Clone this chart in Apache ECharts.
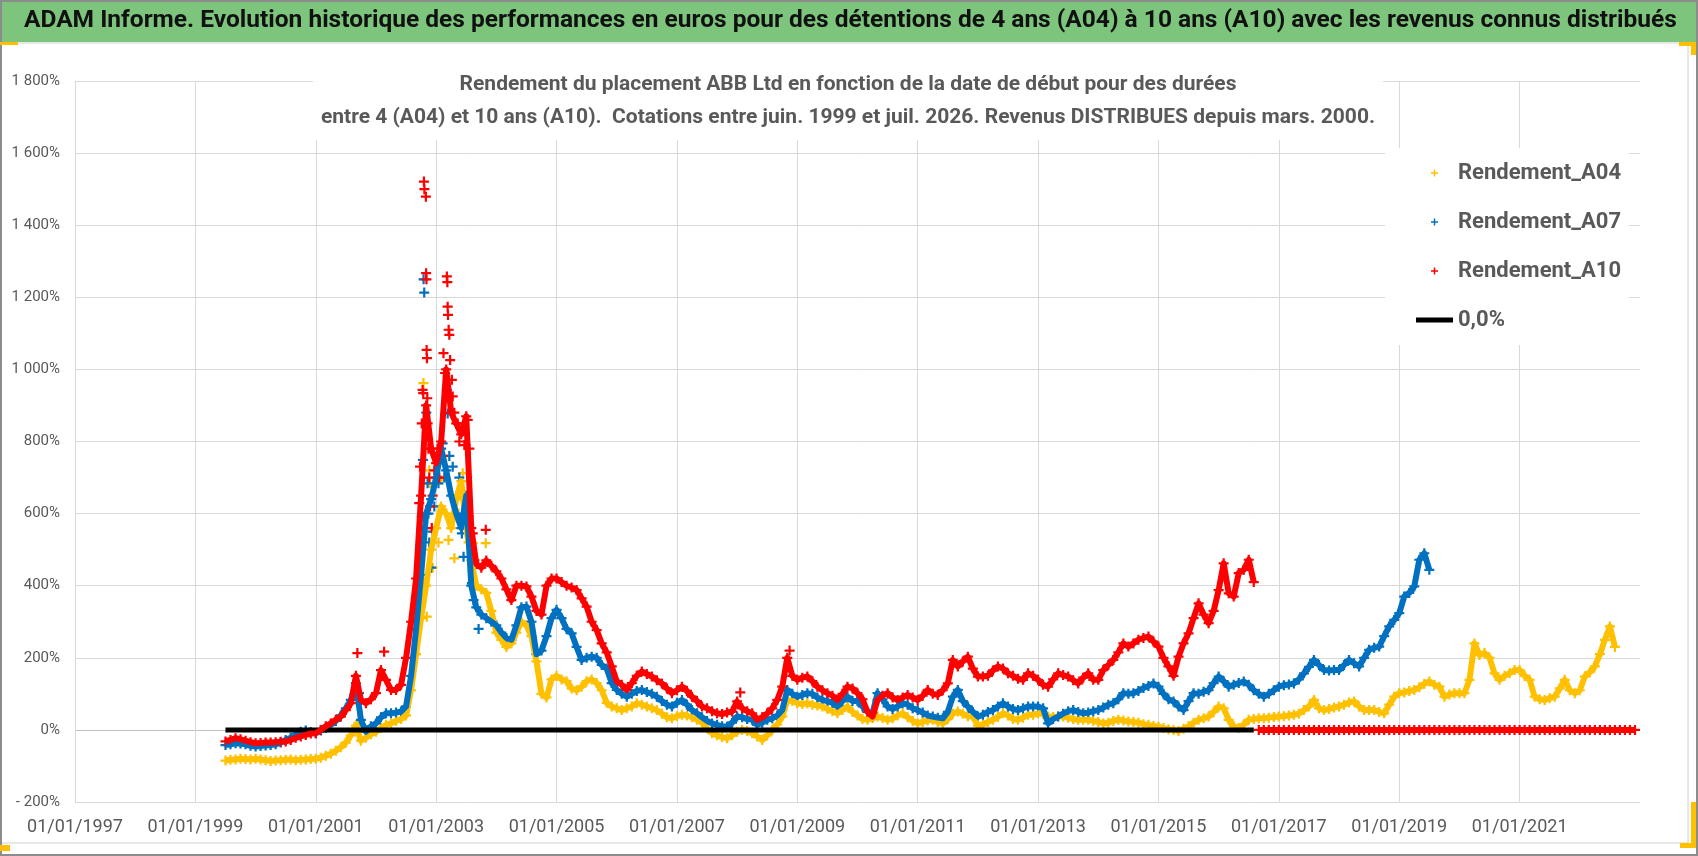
<!DOCTYPE html>
<html>
<head>
<meta charset="utf-8">
<script src="https://cdn.jsdelivr.net/npm/echarts@6/dist/echarts.min.js"></script>
<style>
  html, body { margin: 0; padding: 0; background: #fff; }
  #chart { width: 1698px; height: 856px; }
</style>
</head>
<body>
<div id="chart"></div>
<script>
// monthly values, first month = July 1999
const firstMonth = [1999, 7];

const a04 = [
  -85, -83, -82, -80, -81, -82,
  -80, -82, -84, -86, -85, -84, -83, -82, -84, -83, -82, -81,
  -80, -77, -72, -66, -58, -48, -35, -15, 12, -30, -22, -12,
  -5, 5, 14, 18, 25, 30, 40, 110, 210, 310, 400, 500,
  560, 620, 600, 560, 640, 690, 560, 470, 400, 390, 380, 330,
  270, 250, 230, 240, 270, 300, 290, 260, 190, 100, 90, 140,
  150, 140, 135, 115, 110, 120, 135, 140, 130, 110, 75, 65,
  60, 55, 60, 65, 74, 70, 65, 60, 55, 45, 35, 32,
  38, 42, 40, 35, 28, 20, 5, -9, -15, -20, -23, -15,
  -5, 0, -3, -9, -18, -28, -15, 0, 15, 37, 83, 80,
  74, 72, 74, 70, 68, 65, 58, 52, 46, 55, 65, 50,
  40, 30, 28, 32, 37, 33, 28, 32, 40, 46, 35, 25,
  18, 22, 26, 28, 22, 18, 30, 45, 51, 45, 38, 37,
  12, 15, 22, 28, 36, 46, 40, 30, 28, 34, 42, 42,
  46, 44, 37, 36, 37, 37, 34, 30, 28, 28, 28, 25,
  22, 18, 20, 25, 28, 26, 23, 22, 20, 16, 14, 11,
  9, 5, 2, 0, -3, 3, 10, 20, 28, 32, 37, 50,
  65, 60, 28, 10, 5, 15, 28, 30, 32, 32, 34, 36,
  37, 38, 40, 42, 45, 55, 65, 83, 60, 55, 58, 62,
  65, 70, 76, 79, 65, 55, 55, 55, 50, 46, 70, 92,
  102, 104, 108, 111, 118, 128, 134, 125, 120, 92, 98, 102,
  102, 102, 139, 240, 208, 213, 200, 157, 139, 150, 157, 166,
  166, 150, 139, 92, 85, 83, 88, 92, 115, 139, 110, 102,
  110, 148, 160, 176, 210, 250, 287, 230
];

const a07 = [
  -42, -40, -37, -38, -40, -44,
  -46, -45, -43, -42, -40, -35, -28, -22, -12, -5, -2, -6,
  -9, -2, 5, 14, 25, 40, 60, 83, 130, 28, -5, 10,
  18, 35, 46, 46, 48, 51, 65, 150, 280, 430, 600, 640,
  700, 780, 720, 650, 600, 560, 650, 400, 340, 320, 310, 300,
  290, 270, 255, 250, 290, 340, 342, 300, 210, 220, 260, 310,
  333, 310, 280, 268, 230, 194, 200, 203, 200, 180, 170, 130,
  111, 100, 92, 100, 108, 111, 105, 100, 92, 80, 70, 65,
  75, 83, 70, 55, 46, 35, 25, 18, 14, 10, 9, 20,
  37, 35, 30, 28, 14, 20, 28, 32, 40, 55, 111, 100,
  92, 97, 102, 100, 90, 83, 80, 75, 65, 80, 92, 80,
  80, 65, 50, 46, 102, 85, 65, 58, 65, 74, 70, 60,
  55, 48, 40, 37, 34, 32, 50, 92, 111, 80, 65, 50,
  37, 42, 50, 55, 65, 74, 65, 58, 55, 60, 65, 65,
  65, 60, 18, 30, 37, 45, 52, 55, 50, 46, 48, 52,
  55, 62, 70, 74, 85, 102, 100, 102, 108, 116, 122, 129,
  120, 100, 85, 79, 65, 55, 80, 102, 100, 106, 110, 130,
  148, 135, 120, 125, 130, 134, 125, 110, 100, 92, 100, 110,
  120, 124, 126, 129, 140, 157, 175, 194, 180, 166, 165, 166,
  166, 180, 194, 185, 176, 200, 222, 228, 231, 260, 287, 305,
  324, 370, 380, 398, 472, 490, 444
];

const a10 = [
  -32, -28, -23, -26, -30, -34,
  -37, -36, -35, -35, -34, -33, -32, -28, -22, -18, -14, -10,
  -9, 0, 10, 18, 28, 37, 55, 74, 150, 83, 74, 85,
  102, 166, 139, 111, 111, 125, 200, 300, 420, 650, 900, 780,
  740, 800, 1000, 880, 850, 820, 870, 560, 460, 450, 470, 455,
  440, 420, 390, 360, 400, 400, 398, 370, 330, 320, 400, 420,
  420, 410, 400, 395, 388, 365, 342, 300, 277, 240, 215, 176,
  135, 125, 111, 130, 150, 162, 155, 148, 138, 129, 115, 102,
  110, 120, 108, 92, 80, 65, 60, 52, 46, 44, 48, 51,
  79, 60, 52, 46, 28, 35, 46, 60, 83, 120, 200, 150,
  139, 145, 148, 135, 120, 110, 102, 95, 83, 100, 120, 115,
  102, 85, 50, 37, 83, 95, 102, 90, 83, 90, 97, 90,
  83, 95, 111, 100, 97, 110, 129, 194, 176, 190, 203, 170,
  148, 148, 150, 165, 176, 170, 157, 150, 142, 139, 157, 150,
  139, 125, 120, 140, 157, 152, 148, 138, 129, 145, 157, 139,
  139, 166, 180, 194, 215, 240, 231, 240, 250, 255, 259, 245,
  231, 200, 176, 150, 203, 240, 268, 310, 351, 320, 296, 330,
  388, 462, 379, 370, 435, 444, 472, 410
];
// after Aug 2016 the A10 column only holds 0 values (Sep 2016 - Dec 2022)
const a10Tail = [
  0, 0, 0, 0,
  0, 0, 0, 0, 0, 0, 0, 0, 0, 0, 0, 0,
  0, 0, 0, 0, 0, 0, 0, 0, 0, 0, 0, 0,
  0, 0, 0, 0, 0, 0, 0, 0, 0, 0, 0, 0,
  0, 0, 0, 0, 0, 0, 0, 0, 0, 0, 0, 0,
  0, 0, 0, 0, 0, 0, 0, 0, 0, 0, 0, 0,
  0, 0, 0, 0, 0, 0, 0, 0, 0, 0, 0, 0
];

// scattered points of the 2002-2003 bubble
const a04Extra = [
  ['2002-10-15', 962], ['2002-11-02', 825], ['2002-11-20', 720], ['2002-11-25', 684],
  ['2002-10-20', 407], ['2002-11-05', 314], ['2002-12-10', 450], ['2003-01-15', 520],
  ['2003-02-01', 693], ['2003-03-15', 527], ['2003-04-20', 476], ['2003-05-15', 600],
  ['2003-06-10', 712], ['2003-06-25', 640], ['2003-07-15', 520], ['2003-08-10', 518],
  ['2003-10-28', 518], ['2001-09-15', 18]
];
const a07Extra = [
  ['2002-09-25', 500], ['2002-10-05', 592], ['2002-10-12', 749], ['2002-10-16', 1250],
  ['2002-10-20', 1213], ['2002-11-02', 880], ['2002-11-05', 814], ['2002-11-10', 684],
  ['2002-11-15', 600], ['2002-11-20', 520], ['2002-12-01', 450], ['2002-12-10', 550],
  ['2002-12-20', 620], ['2003-01-15', 684], ['2003-02-10', 795], ['2003-02-20', 700],
  ['2003-03-05', 943], ['2003-03-10', 878], ['2003-03-20', 760], ['2003-04-10', 730],
  ['2003-05-05', 650], ['2003-05-20', 700], ['2003-06-05', 545], ['2003-06-15', 480],
  ['2003-07-15', 592], ['2003-08-05', 407], ['2003-08-15', 360], ['2003-09-15', 280],
  ['2001-09-20', 102]
];
const a10Extra = [
  ['2002-09-20', 629], ['2002-09-25', 730], ['2002-10-05', 850], ['2002-10-10', 943],
  ['2002-10-14', 934], ['2002-10-18', 1521], ['2002-10-21', 1500], ['2002-10-30', 1479],
  ['2002-11-01', 1267], ['2002-11-03', 1250], ['2002-11-04', 1054], ['2002-11-06', 1031],
  ['2002-11-08', 920], ['2002-11-10', 850], ['2002-11-15', 780], ['2002-11-20', 700],
  ['2002-11-25', 620], ['2002-12-05', 560], ['2002-12-10', 650], ['2002-12-20', 720],
  ['2003-01-10', 780], ['2003-01-20', 700], ['2003-02-10', 760], ['2003-02-15', 1045],
  ['2003-02-25', 990], ['2003-03-05', 1258], ['2003-03-08', 1242], ['2003-03-10', 1174],
  ['2003-03-12', 1151], ['2003-03-16', 1110], ['2003-03-20', 1096], ['2003-03-25', 1026],
  ['2003-04-05', 971], ['2003-04-10', 925], ['2003-04-20', 880], ['2003-05-10', 850],
  ['2003-05-20', 800], ['2003-06-10', 830], ['2003-06-20', 790], ['2003-07-10', 860],
  ['2003-07-20', 780], ['2003-08-10', 545], ['2003-08-20', 470], ['2003-10-28', 555],
  ['2001-09-10', 213], ['2002-02-20', 217], ['2008-11-15', 220], ['2008-01-20', 104]
];

const zeroLine = ['1999-07-01', '2016-08-01'];
const seriesNames = ['Rendement_A04', 'Rendement_A07', 'Rendement_A10', '0,0%'];
const colors = ['#FFC000', '#0070C0', '#FF0000', '#000000'];

const FONT = "Roboto, 'Noto Sans', sans-serif";
const BASE_YEAR = 1997;
const PLUS = 'path://M3.5,0H5.5V3.5H9V5.5H5.5V9H3.5V5.5H0V3.5H3.5Z';
const PLUS_ICON = 'path://M0,0L0.01,0L0,0.01Z M37,7L36.99,7L37,6.99Z M17.75,0H19.25V2.75H22V4.25H19.25V7H17.75V4.25H15V2.75H17.75Z';
const LINE_ICON = 'path://M0,0L0.01,0L0,0.01Z M37,7L36.99,7L37,6.99Z M0,1H37V6H0Z';

// x axis runs in years since 01/01/1997
const monthX = (i) => firstMonth[0] - BASE_YEAR + (firstMonth[1] - 1 + i) / 12;
const dateX = (s) => {
  const [y, m, d] = s.split('-').map(Number);
  return y - BASE_YEAR + (m - 1) / 12 + (d - 1) / 365;
};
const monthly = (vals, offset = 0) => vals.map((v, i) => [monthX(i + offset), v]);
const extraPts = (extra) => extra.map(([d, v]) => [dateX(d), v]);

const pct = (v) => {
  const s = String(Math.abs(v)).replace(/\B(?=(\d{3})+(?!\d))/g, ' ');
  return (v < 0 ? '- ' : '') + s + '%';
};

const scatter = (idx, data) => ({
  name: seriesNames[idx],
  type: 'scatter',
  data: data,
  symbol: PLUS,
  symbolSize: 10,
  symbolKeepAspect: true,
  itemStyle: { color: colors[idx], opacity: 1 },
  emphasis: { disabled: true }
});

// band under the crosses so the daily cloud reads as continuous
const band = (idx, data, tag) => ({
  name: '_band' + idx + (tag || ''),
  type: 'line',
  data: data,
  showSymbol: false,
  symbol: 'none',
  lineStyle: { color: colors[idx], width: 6, join: 'round' },
  itemStyle: { color: colors[idx] },
  emphasis: { disabled: true },
  silent: true
});

const a10Pts = monthly(a10);
const a10TailPts = monthly(a10Tail, a10.length);

const chart = echarts.init(document.getElementById('chart'));
chart.setOption({
  animation: false,
  backgroundColor: '#fff',
  graphic: [
    { type: 'rect', shape: { x: 0, y: 0, width: 1698, height: 42 }, style: { fill: '#7DC57D' }, z: -1 },
    { type: 'line', shape: { x1: 0, y1: 43, x2: 1688, y2: 43 }, style: { stroke: '#D0D0D0', lineWidth: 1 }, z: -1 },
    { type: 'line', shape: { x1: 1688, y1: 43, x2: 1688, y2: 843 }, style: { stroke: '#D0D0D0', lineWidth: 1 }, z: -1 },
    { type: 'line', shape: { x1: 0, y1: 843, x2: 1688, y2: 843 }, style: { stroke: '#D0D0D0', lineWidth: 1 }, z: -1 },
    { type: 'rect', shape: { x: 1, y: 1, width: 1696, height: 854 }, style: { fill: null, stroke: '#8C8C8C', lineWidth: 2 }, z: 10 },
    { type: 'rect', shape: { x: 0, y: 42, width: 18, height: 3 }, style: { fill: '#FFC000' }, z: 11 },
    { type: 'rect', shape: { x: 1679, y: 42, width: 17, height: 4 }, style: { fill: '#FFC000' }, z: 11 },
    { type: 'rect', shape: { x: 1691, y: 42, width: 5, height: 13 }, style: { fill: '#FFC000' }, z: 11 },
    { type: 'rect', shape: { x: 1680, y: 843, width: 16, height: 5 }, style: { fill: '#FFC000' }, z: 11 },
    { type: 'rect', shape: { x: 1691, y: 802, width: 5, height: 46 }, style: { fill: '#FFC000' }, z: 11 },
    { type: 'rect', shape: { x: 0, y: 845, width: 10, height: 6 }, style: { fill: '#FFC000' }, z: 11 }
  ],
  title: [
    {
      text: 'ADAM Informe. Evolution historique des performances en euros pour des détentions de 4 ans (A04) à 10 ans (A10) avec les revenus connus distribués',
      left: 24, top: 8, padding: 0,
      textStyle: { fontFamily: FONT, fontSize: 24.5, fontWeight: 'bold', color: '#111' }
    },
    {
      text: 'Rendement du placement ABB Ltd en fonction de la date de début pour des durées\nentre 4 (A04) et 10 ans (A10).  Cotations entre juin. 1999 et juil. 2026. Revenus DISTRIBUES depuis mars. 2000.',
      left: 840, top: 64, padding: [4, 8, 6, 8],
      backgroundColor: '#fff',
      textAlign: 'center',
      textStyle: { fontFamily: FONT, fontSize: 21, fontWeight: 'bold', color: '#595959', lineHeight: 33 }
    }
  ],
  legend: {
    orient: 'vertical',
    left: 1385, top: 148,
    padding: [14, 8, 14, 31],
    backgroundColor: '#fff',
    itemWidth: 37, itemHeight: 7, itemGap: 27,
    selectedMode: false,
    textStyle: { fontFamily: FONT, fontSize: 22, fontWeight: 'bold', color: '#595959' },
    data: [
      { name: seriesNames[0], icon: PLUS_ICON },
      { name: seriesNames[1], icon: PLUS_ICON },
      { name: seriesNames[2], icon: PLUS_ICON },
      { name: seriesNames[3], icon: LINE_ICON }
    ]
  },
  grid: { left: 75, right: 58, top: 81, bottom: 54, containLabel: false },
  xAxis: {
    type: 'value',
    min: 0, max: 26, interval: 2,
    axisLine: { show: false },
    axisTick: { show: false },
    splitLine: { show: true, showMaxLine: false, lineStyle: { color: '#D9D9D9', width: 1 } },
    axisLabel: {
      showMaxLabel: false,
      margin: 16,
      fontFamily: FONT, fontSize: 18, color: '#595959',
      formatter: (v) => '01/01/' + (BASE_YEAR + v)
    }
  },
  yAxis: {
    type: 'value',
    min: -200, max: 1800, interval: 200,
    axisLine: { show: false },
    axisTick: { show: false },
    splitLine: {
      lineStyle: {
        color: ['#D9D9D9', '#BFBFBF', '#D9D9D9', '#D9D9D9', '#D9D9D9', '#D9D9D9',
                '#D9D9D9', '#D9D9D9', '#D9D9D9', '#D9D9D9', '#D9D9D9'],
        width: 1
      }
    },
    axisLabel: {
      margin: 15,
      fontFamily: FONT, fontSize: 15, color: '#595959',
      formatter: pct
    }
  },
  series: [
    band(0, monthly(a04)),
    scatter(0, monthly(a04).concat(extraPts(a04Extra))),
    band(1, monthly(a07)),
    scatter(1, monthly(a07).concat(extraPts(a07Extra))),
    {
      name: seriesNames[3],
      type: 'line',
      data: zeroLine.map((d) => [dateX(d), 0]),
      symbol: 'none',
      lineStyle: { color: colors[3], width: 5 },
      itemStyle: { color: colors[3] },
      emphasis: { disabled: true }
    },
    band(2, a10Pts),
    band(2, a10TailPts, 'tail'),
    scatter(2, a10Pts.concat(a10TailPts, extraPts(a10Extra)))
  ]
});
</script>
</body>
</html>
